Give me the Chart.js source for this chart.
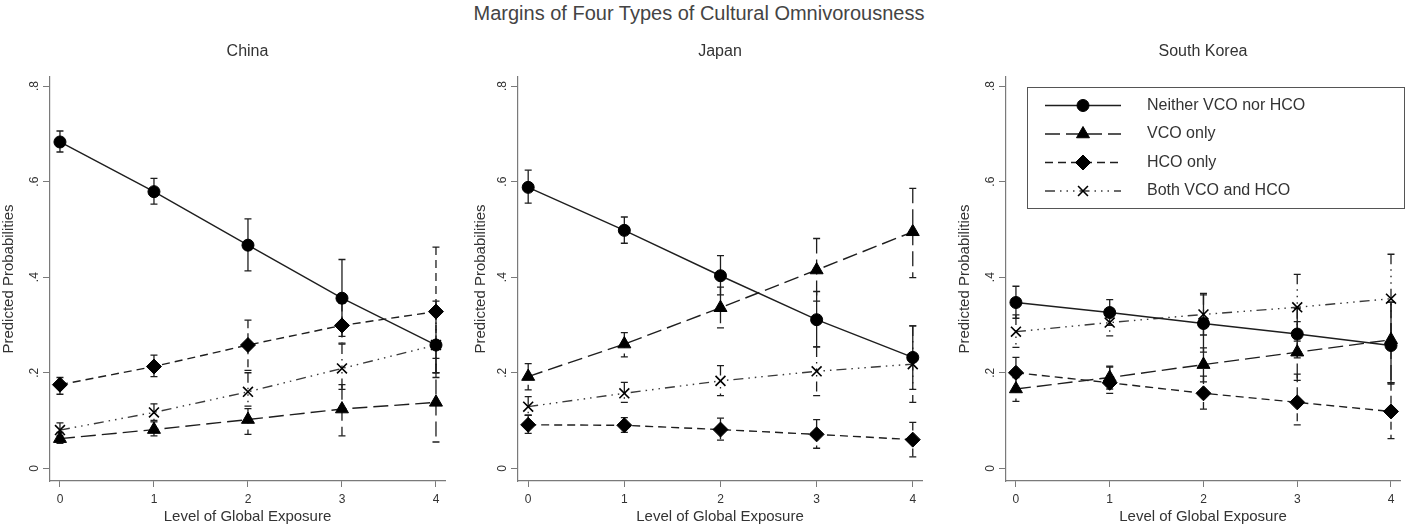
<!DOCTYPE html>
<html>
<head>
<meta charset="utf-8">
<script src="https://cdn.jsdelivr.net/npm/chart.js@4.4.1/dist/chart.umd.min.js"></script>
<style>
  body { margin: 0; background: #fff; }
  #wrap { position: relative; width: 1416px; height: 526px; overflow: hidden; }
  #mainTitle { position: absolute; left: 0; top: 0; width: 1398px; text-align: center;
               font: 20px 'Liberation Sans', Arial, sans-serif; color: #444; line-height: 26px; }
  canvas { position: absolute; top: 0; }
</style>
</head>
<body>
<div id="wrap">
  <div id="mainTitle">Margins of Four Types of Cultural Omnivorousness</div>
  <canvas id="chinaChart" width="472" height="526" style="left:0px"></canvas>
  <canvas id="japanChart" width="472" height="526" style="left:472px"></canvas>
  <canvas id="koreaChart" width="472" height="526" style="left:944px"></canvas>
</div>
<script>
// x 轴 / y 轴
const exposure = [0, 1, 2, 3, 4];
const yTickValues = [0, 0.2, 0.4, 0.6, 0.8];
const yTickLabels = ['0', '.2', '.4', '.6', '.8'];
const seriesNames = ['Neither VCO nor HCO', 'VCO only', 'HCO only', 'Both VCO and HCO'];

// China
const chinaNeither   = [0.683, 0.579, 0.467, 0.356, 0.258];
const chinaNeitherLo = [0.662, 0.553, 0.413, 0.276, 0.200];
const chinaNeitherHi = [0.706, 0.607, 0.522, 0.437, 0.320];
const chinaVco       = [0.062, 0.081, 0.102, 0.124, 0.138];
const chinaVcoLo     = [0.052, 0.068, 0.071, 0.068, 0.055];
const chinaVcoHi     = [0.075, 0.097, 0.125, 0.175, 0.230];
const chinaHco       = [0.175, 0.213, 0.258, 0.299, 0.328];
const chinaHcoLo     = [0.155, 0.192, 0.205, 0.262, 0.200];
const chinaHcoHi     = [0.190, 0.237, 0.310, 0.345, 0.463];
const chinaBoth      = [0.080, 0.117, 0.160, 0.209, 0.258];
const chinaBothLo    = [0.068, 0.100, 0.130, 0.165, 0.190];
const chinaBothHi    = [0.095, 0.135, 0.200, 0.260, 0.350];

// Japan
const japanNeither   = [0.588, 0.498, 0.403, 0.311, 0.232];
const japanNeitherLo = [0.555, 0.471, 0.363, 0.254, 0.165];
const japanNeitherHi = [0.624, 0.526, 0.445, 0.370, 0.298];
const japanVco       = [0.192, 0.260, 0.336, 0.415, 0.495];
const japanVcoLo     = [0.164, 0.233, 0.294, 0.350, 0.399];
const japanVcoHi     = [0.219, 0.284, 0.379, 0.481, 0.586];
const japanHco       = [0.091, 0.090, 0.081, 0.071, 0.060];
const japanHcoLo     = [0.073, 0.075, 0.059, 0.042, 0.024];
const japanHcoHi     = [0.111, 0.106, 0.105, 0.102, 0.096];
const japanBoth      = [0.129, 0.157, 0.183, 0.203, 0.218];
const japanBothLo    = [0.111, 0.138, 0.152, 0.152, 0.138];
const japanBothHi    = [0.150, 0.180, 0.215, 0.254, 0.298];

// South Korea
const koreaNeither   = [0.347, 0.326, 0.303, 0.281, 0.257];
const koreaNeitherLo = [0.314, 0.299, 0.243, 0.231, 0.176];
const koreaNeitherHi = [0.381, 0.353, 0.366, 0.335, 0.348];
const koreaVco       = [0.166, 0.190, 0.217, 0.243, 0.269];
const koreaVcoLo     = [0.140, 0.166, 0.181, 0.184, 0.179];
const koreaVcoHi     = [0.190, 0.214, 0.252, 0.307, 0.348];
const koreaHco       = [0.200, 0.179, 0.157, 0.138, 0.119];
const koreaHcoLo     = [0.169, 0.157, 0.124, 0.091, 0.062];
const koreaHcoHi     = [0.232, 0.212, 0.193, 0.197, 0.179];
const koreaBoth      = [0.286, 0.305, 0.322, 0.337, 0.355];
const koreaBothLo    = [0.253, 0.277, 0.279, 0.266, 0.259];
const koreaBothHi    = [0.321, 0.334, 0.363, 0.406, 0.448];

document.addEventListener('DOMContentLoaded', function() {

    Chart.defaults.font.family = "'Liberation Sans', Arial, sans-serif";
    Chart.defaults.color = '#333';

    const lineColor = '#1e1e1e';
    const axisColor = '#7a7a7a';

    // 线型 / 点型
    const styles = [
        { dash: [], point: 'circle', radius: 6, color: lineColor },
        { dash: [15, 6], point: 'triangle', radius: 7.5, color: lineColor },
        { dash: [8, 5], point: 'rectRot', radius: 7.5, color: lineColor },
        { dash: [10, 5, 1.5, 5, 1.5, 5, 1.5, 5], point: 'crossRot', radius: 7, color: '#3a3a3a' }
    ];

    function makeDataset(i, values, lo, hi) {
        return {
            label: seriesNames[i],
            data: exposure.map((x, k) => ({ x: x, y: values[k] })),
            errLo: lo,
            errHi: hi,
            borderColor: styles[i].color,
            borderWidth: 1.4,
            borderDash: styles[i].dash,
            pointStyle: styles[i].point,
            pointRadius: styles[i].radius,
            pointBackgroundColor: '#000',
            pointBorderColor: '#000',
            pointBorderWidth: i === 3 ? 1.6 : 1,
            tension: 0,
            fill: false
        };
    }

    function drawMarker(ctx, style, x, y) {
        if (Chart.helpers && Chart.helpers.drawPoint) {
            ctx.fillStyle = '#000';
            ctx.strokeStyle = '#000';
            ctx.lineWidth = style.point === 'crossRot' ? 1.6 : 1;
            ctx.setLineDash([]);
            Chart.helpers.drawPoint(ctx, { pointStyle: style.point, radius: style.radius, rotation: 0, borderWidth: ctx.lineWidth }, x, y);
        }
    }

    // 误差线
    const errorBars = {
        id: 'errorBars',
        beforeDatasetsDraw(chart) {
            const ctx = chart.ctx;
            const xs = chart.scales.x, ys = chart.scales.y;
            ctx.save();
            chart.data.datasets.forEach((ds, i) => {
                ctx.strokeStyle = lineColor;
                ctx.lineWidth = 1.3;
                ds.data.forEach((p, k) => {
                    const px = xs.getPixelForValue(p.x);
                    const top = ys.getPixelForValue(ds.errHi[k]);
                    const bot = ys.getPixelForValue(ds.errLo[k]);
                    ctx.setLineDash(styles[i].dash);
                    ctx.beginPath();
                    ctx.moveTo(px, top);
                    ctx.lineTo(px, bot);
                    ctx.stroke();
                    ctx.setLineDash([]);
                    ctx.beginPath();
                    ctx.moveTo(px - 3.5, top); ctx.lineTo(px + 3.5, top);
                    ctx.moveTo(px - 3.5, bot); ctx.lineTo(px + 3.5, bot);
                    ctx.stroke();
                });
            });
            ctx.restore();
        }
    };

    // 标题、y 轴刻度标签、图例
    const panelDecor = {
        id: 'panelDecor',
        afterDraw(chart, args, opts) {
            const ctx = chart.ctx;
            const area = chart.chartArea;
            const ys = chart.scales.y;
            ctx.save();
            ctx.fillStyle = '#333';
            ctx.font = "16px 'Liberation Sans', Arial, sans-serif";
            ctx.textAlign = 'center';
            ctx.textBaseline = 'middle';
            ctx.fillText(opts.title, (area.left + area.right) / 2, 52);

            ctx.font = "12px 'Liberation Sans', Arial, sans-serif";
            yTickValues.forEach((v, k) => {
                const py = ys.getPixelForValue(v);
                ctx.save();
                ctx.translate(area.left - 15, py);
                ctx.rotate(-Math.PI / 2);
                ctx.fillText(yTickLabels[k], 0, 0);
                ctx.restore();
            });

            if (opts.legend) {
                ctx.strokeStyle = '#555';
                ctx.lineWidth = 1;
                ctx.setLineDash([]);
                ctx.strokeRect(83.5, 87.5, 377, 121);
                const rows = [105.5, 134, 162.5, 191];
                ctx.font = "16px 'Liberation Sans', Arial, sans-serif";
                ctx.textAlign = 'left';
                seriesNames.forEach((name, i) => {
                    const y = rows[i];
                    ctx.strokeStyle = styles[i].color;
                    ctx.lineWidth = 1.4;
                    ctx.setLineDash(styles[i].dash);
                    ctx.beginPath();
                    ctx.moveTo(101, y);
                    ctx.lineTo(177, y);
                    ctx.stroke();
                    drawMarker(ctx, styles[i], 139, y);
                    ctx.fillStyle = '#333';
                    ctx.fillText(name, 203, y);
                });
            }
            ctx.restore();
        }
    };

    function makePanel(id, title, axisLeft, axisRight, datasets, showLegend) {
        var ctx = document.getElementById(id).getContext('2d');
        return new Chart(ctx, {
            type: 'line',
            data: { datasets: datasets },
            plugins: [errorBars, panelDecor],
            options: {
                responsive: false,
                animation: false,
                layout: { padding: { left: 0, right: 472 - axisRight, top: 77, bottom: 0 } },
                plugins: {
                    legend: { display: false },
                    tooltip: { enabled: false },
                    panelDecor: { title: title, legend: showLegend }
                },
                scales: {
                    x: {
                        type: 'linear',
                        min: -0.106,
                        max: 4.096,
                        afterBuildTicks: s => { s.ticks = exposure.map(v => ({ value: v })); },
                        afterFit: s => { s.height = 45; },
                        grid: { drawOnChartArea: false, drawTicks: true, tickLength: 6, color: axisColor },
                        border: { display: true, color: axisColor, width: 1.2 },
                        ticks: { color: '#333', font: { size: 12 }, padding: 5, maxRotation: 0 },
                        title: { display: true, text: 'Level of Global Exposure', font: { size: 15 }, color: '#333', padding: { top: 0, bottom: 0 } }
                    },
                    y: {
                        type: 'linear',
                        min: -0.0266,
                        max: 0.819,
                        afterBuildTicks: s => { s.ticks = yTickValues.map(v => ({ value: v })); },
                        afterFit: s => { s.width = axisLeft; },
                        grid: { drawOnChartArea: false, drawTicks: true, tickLength: 7, color: axisColor },
                        border: { display: true, color: axisColor, width: 1.2 },
                        ticks: { display: false },
                        title: { display: true, text: 'Predicted Probabilities', font: { size: 15 }, color: '#333', padding: { top: Math.max(0, axisLeft - 50), bottom: 0 } }
                    }
                }
            }
        });
    }

    makePanel('chinaChart', 'China', 50, 445, [
        makeDataset(0, chinaNeither, chinaNeitherLo, chinaNeitherHi),
        makeDataset(1, chinaVco, chinaVcoLo, chinaVcoHi),
        makeDataset(2, chinaHco, chinaHcoLo, chinaHcoHi),
        makeDataset(3, chinaBoth, chinaBothLo, chinaBothHi)
    ], false);

    makePanel('japanChart', 'Japan', 46, 450, [
        makeDataset(0, japanNeither, japanNeitherLo, japanNeitherHi),
        makeDataset(1, japanVco, japanVcoLo, japanVcoHi),
        makeDataset(2, japanHco, japanHcoLo, japanHcoHi),
        makeDataset(3, japanBoth, japanBothLo, japanBothHi)
    ], false);

    makePanel('koreaChart', 'South Korea', 62, 456, [
        makeDataset(0, koreaNeither, koreaNeitherLo, koreaNeitherHi),
        makeDataset(1, koreaVco, koreaVcoLo, koreaVcoHi),
        makeDataset(2, koreaHco, koreaHcoLo, koreaHcoHi),
        makeDataset(3, koreaBoth, koreaBothLo, koreaBothHi)
    ], true);
});
</script>
</body>
</html>
